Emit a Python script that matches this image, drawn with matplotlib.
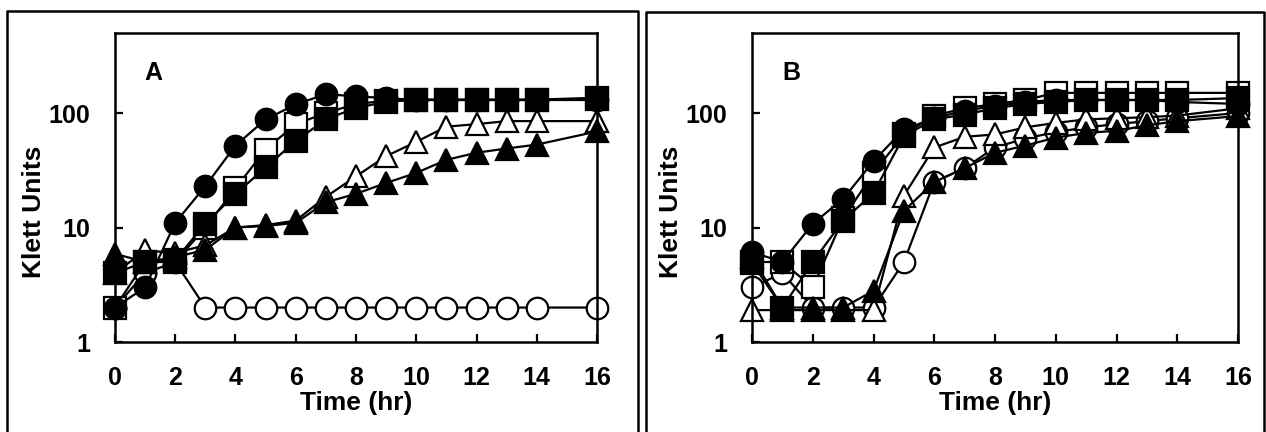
import matplotlib
matplotlib.use("Agg")
import matplotlib.pyplot as plt
from matplotlib.lines import Line2D

plt.rcParams['font.family'] = ['Liberation Sans', 'DejaVu Sans']
plt.rcParams['font.weight'] = 'bold'

# time points (hr)
time = [0, 1, 2, 3, 4, 5, 6, 7, 8, 9, 10, 11, 12, 13, 14, 16]

# Panel A
a_open_circle = [2, 4, 5, 2, 2, 2, 2, 2, 2, 2, 2, 2, 2, 2, 2, 2]
a_open_square = [2, 5, 5, 10, 22, 48, 80, 100, 120, 128, 130, 130, 130, 130, 130, 132]
a_open_tri = [4, 6.3, 6, 7, 10, 10.5, 11.5, 18.5, 28, 42, 56, 76, 80, 85, 85, 85]
a_fill_circle = [2, 3, 11, 23, 52, 88, 119, 146, 140, 135, 130, 130, 130, 130, 130, 130]
a_fill_tri = [5.9, 5, 5.5, 6.4, 10, 10.3, 11, 16.6, 19.7, 24.5, 30, 39, 45, 49, 53, 69]
a_fill_square = [4, 5, 5.2, 10.8, 19.6, 33.5, 57, 88, 111, 125, 131, 131, 131, 131, 131, 136]

# Panel B
b_open_circle = [3, 4, 2, 2, 2, 5, 25, 33, 50, 60, 68, 75, 80, 85, 90, 100]
b_open_square = [5, 5, 3, 12, 30, 65, 95, 110, 120, 130, 150, 150, 150, 150, 150, 150]
b_open_tri = [1.9, 1.9, 1.9, 1.9, 1.9, 19, 50, 62, 65, 75, 82, 88, 90, 92, 95, 110]
b_fill_circle = [6.1, 5, 10.8, 17.8, 38, 72, 90, 105, 115, 125, 130, 130, 130, 130, 125, 120]
b_fill_tri = [5.5, 2, 2, 2, 2.8, 14, 25, 33, 45, 52, 61, 67, 70, 78, 85, 94]
b_fill_square = [4.9, 2, 5, 11.5, 20, 63, 88, 97, 110, 120, 125, 130, 130, 130, 130, 135]

panels = [
    ("A", [0.0908, 0.2083, 0.3808, 0.7153],
     [a_open_circle, a_open_square, a_open_tri, a_fill_circle, a_fill_tri, a_fill_square]),
    ("B", [0.5940, 0.2083, 0.3839, 0.7153],
     [b_open_circle, b_open_square, b_open_tri, b_fill_circle, b_fill_tri, b_fill_square]),
]
styles = [('o', 'white'), ('s', 'white'), ('^', 'white'),
          ('o', 'black'), ('^', 'black'), ('s', 'black')]

fig = plt.figure(figsize=(12.66, 4.32), dpi=100)

for letter, rect, series in panels:
    ax = fig.add_axes(rect)
    for vals, (mk, fc) in zip(series, styles):
        ax.plot(time, vals, color='black', lw=1.6, marker=mk, ms=15.5,
                mfc=fc, mec='black', mew=1.6, clip_on=False)
    ax.set_yscale('log')
    ax.set_ylim(1, 500)
    ax.set_xlim(0, 16)
    ax.set_xticks(range(0, 17, 2))
    ax.set_yticks([1, 10, 100])
    ax.set_yticklabels(['1', '10', '100'])
    ax.minorticks_off()
    ax.tick_params(axis='both', direction='in', length=6, width=1.6, labelsize=18)
    ax.tick_params(axis='x', pad=17)
    ax.tick_params(axis='y', pad=18)
    for sp in ax.spines.values():
        sp.set_linewidth(1.8)
    ax.text(-81 / (rect[2] * 1266), 0.42, 'Klett Units', transform=ax.transAxes,
            rotation=90, ha='center', va='center', fontsize=19, fontweight='bold')
    ax.text(0.5, -0.197, 'Time (hr)', transform=ax.transAxes,
            ha='center', va='center', fontsize=19, fontweight='bold')
    ax.text(0.08, 0.87, letter, transform=ax.transAxes,
            ha='center', va='center', fontsize=18, fontweight='bold')

# panel frames
for x0, x1, ytop in [(0.0059, 0.5040, 0.9745), (0.5103, 0.9985, 0.9722)]:
    fig.add_artist(Line2D([x0, x0, x1, x1], [-0.05, ytop, ytop, -0.05],
                          transform=fig.transFigure, color='black', lw=1.8))

fig.savefig('out.png', dpi=100)
